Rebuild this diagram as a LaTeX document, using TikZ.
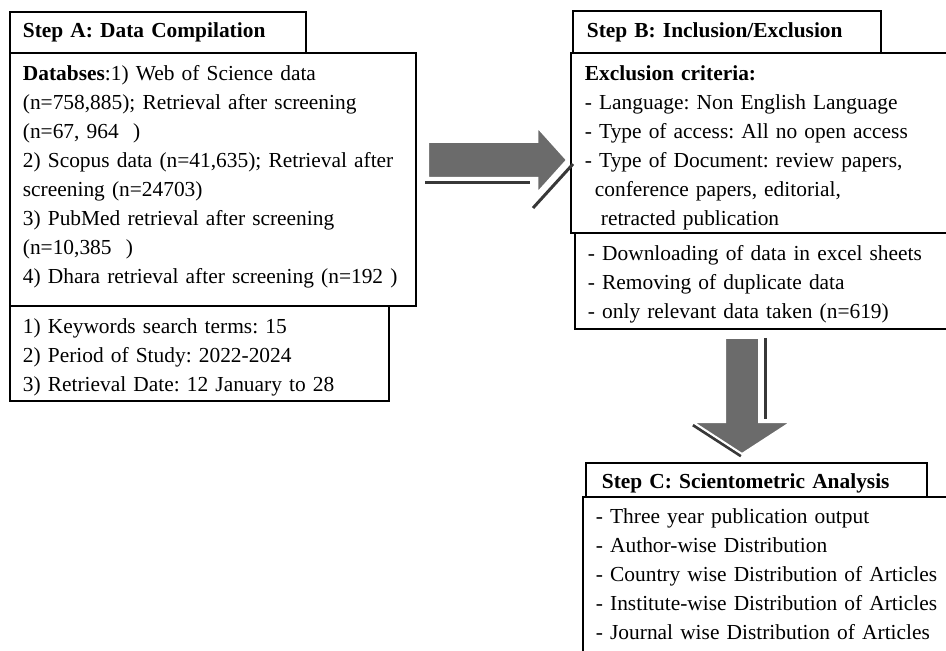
\documentclass[tikz,border=0pt]{standalone}
\usepackage{fontspec}
\setmainfont{Liberation Serif}
\usetikzlibrary{shapes.arrows}

\tikzset{
  box/.style={draw, line width=0.9pt, anchor=north west, align=left,
    font=\fontsize{10.7}{14.5}\selectfont\frenchspacing, inner ysep=0pt},
  titlebox/.style={box, font=\fontsize{10.7}{14.5}\selectfont\bfseries},
  bigarrow/.style={single arrow, draw=white, line width=1pt, fill=black!58, inner xsep=0pt, anchor=tail},
  shadowline/.style={draw=black!78, line width=1.5pt}
}

\begin{document}
\begin{tikzpicture}[x=0.5pt,y=-0.5pt]
\useasboundingbox (0,0) rectangle (946,651);
\clip (0,0) rectangle (946,651);

\node[titlebox, text width=135pt, inner xsep=6.5pt, minimum height=20.5pt] (titleA) at (9,11) {Step A: Data Compilation};
\node[box, text width=190pt, inner xsep=6.5pt, text height=14pt, text depth=112.5pt] (dataA) at (9,52)
  {{\bfseries Databses}:1) Web of Science data\\
   (n=758,885); Retrieval after screening\\
   (n=67, 964\ \ )\\
   2) Scopus data (n=41,635); Retrieval after\\
   screening (n=24703)\\
   3) PubMed retrieval after screening\\
   (n=10,385\ \ )\\
   4) Dhara retrieval after screening (n=192 )};
\node[box, text width=176.5pt, inner xsep=6.5pt, text height=14pt, text depth=33.5pt] (termsA) at (9,305)
  {1) Keywords search terms: 15\\
   2) Period of Study: 2022-2024\\
   3) Retrieval Date: 12 January to 28};

\node[titlebox, text width=140pt, inner xsep=7pt, minimum height=21pt] (titleB) at (572,10) {Step B: Inclusion/Exclusion};
\node[box, text width=181pt, inner xsep=7pt, text height=14pt, text depth=76pt] (critB) at (570,52)
  {{\bfseries Exclusion criteria:}\\
   - Language: Non English Language\\
   - Type of access: All no open access\\
   - Type of Document: review papers,\\
   \hspace*{5pt}conference papers, editorial,\\
   \hspace*{8pt}retracted publication};
\node[box, text width=180pt, inner xsep=6.5pt, text height=14pt, text depth=34pt] (stepsB) at (574,232)
  {- Downloading of data in excel sheets\\
   - Removing of duplicate data\\
   - only relevant data taken (n=619)};

\node[titlebox, text width=154.5pt, inner xsep=8pt, text height=13pt, text depth=4pt] (titleC) at (585,462) {Step C: Scientometric Analysis};
\node[box, text width=176pt, inner xsep=6.5pt, text height=13.5pt, text depth=90pt] (analysisC) at (582,496)
  {- Three year publication output\\
   - Author-wise Distribution\\
   - Country wise Distribution of Articles\\
   - Institute-wise Distribution of Articles\\
   - Journal wise Distribution of Articles};

\draw[shadowline] (425,183) -- (530,183);
\draw[shadowline] (573,164) -- (533,208);
\node[bigarrow, inner ysep=8.5pt, minimum height=69.5pt, single arrow head extend=7.5pt, single arrow tip angle=96] (arrAB) at (427,160) {};

\draw[shadowline] (765,338) -- (765,419);
\draw[shadowline] (693,425) -- (741,456);
\node[bigarrow, rotate=-90, inner ysep=8pt, minimum height=58pt, single arrow head extend=16pt, single arrow tip angle=114] (arrBC) at (742,337) {};
\end{tikzpicture}
\end{document}
